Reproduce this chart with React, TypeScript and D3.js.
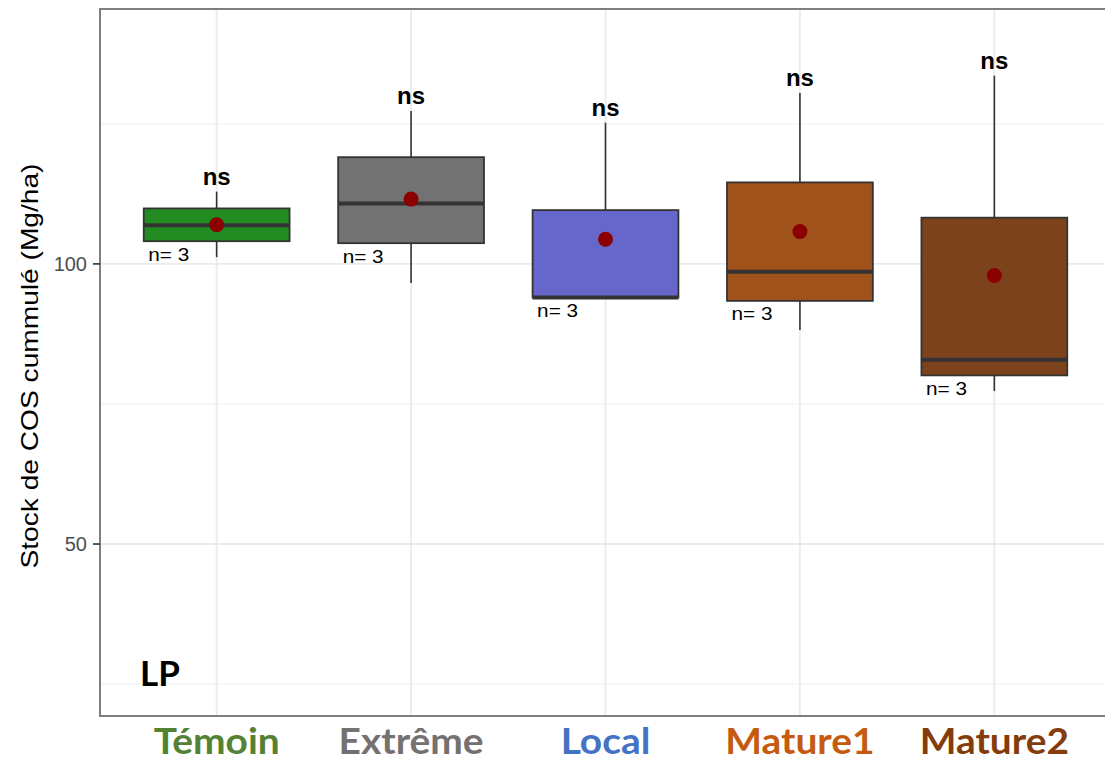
import React from 'react';
import * as d3 from 'd3';

// categories and label colours
const categories = ['Témoin', 'Extrême', 'Local', 'Mature1', 'Mature2'];
const boxFills = ['#228B22', '#727272', '#6767CB', '#A0521B', '#7C421C'];
const labelColors = ['#548235', '#767171', '#4472C4', '#C55A11', '#843C0C'];

const obsTemoin = [101.2, 106.9, 112.9];
const obsExtreme = [96.6, 110.8, 127.3];
const obsLocal = [94.0, 94.0, 125.2];
const obsMature1 = [88.2, 98.6, 130.5];
const obsMature2 = [77.3, 82.9, 133.6];
const observations = [obsTemoin, obsExtreme, obsLocal, obsMature1, obsMature2];

const signif = ['ns', 'ns', 'ns', 'ns', 'ns'];
const majorTicks = [50, 100];
const minorTicks = [25, 75, 125];

const W = 1105;
const H = 762;
const panel = {left: 100, right: 1111, top: 9, bottom: 716};

const sansFont = '"Liberation Sans", Arial, sans-serif';
const labelFont = 'Lato, "Open Sans", sans-serif';

function App() {
    const x = d3.scalePoint<string>()
        .domain(categories)
        .range([panel.left, panel.right])
        .padding(0.6);
    const step = x.step();
    const boxW = step * 0.75;

    const y = d3.scaleLinear()
        .domain([19.3, 145.5])
        .range([panel.bottom, panel.top]);

    const stats = observations.map((v) => {
        const s = v.slice().sort(d3.ascending);
        return {
            lo: d3.min(s) as number,
            q1: d3.quantile(s, 0.25) as number,
            med: d3.quantile(s, 0.5) as number,
            q3: d3.quantile(s, 0.75) as number,
            hi: d3.max(s) as number,
            mean: d3.mean(s) as number,
            n: s.length,
        };
    });

    return (
        <svg width={W} height={H} style={{position: 'absolute', left: 0, top: 0, background: '#fff'}}>
            <defs>
                <clipPath id="panelClip">
                    <rect x={panel.left} y={panel.top} width={panel.right - panel.left} height={panel.bottom - panel.top} />
                </clipPath>
            </defs>
            <g clipPath="url(#panelClip)">
                {minorTicks.map((t) => (
                    <line key={'mi' + t} x1={panel.left} x2={panel.right} y1={y(t)} y2={y(t)} stroke="#f2f2f2" strokeWidth={1.2} />
                ))}
                {majorTicks.map((t) => (
                    <line key={'ma' + t} x1={panel.left} x2={panel.right} y1={y(t)} y2={y(t)} stroke="#ebebeb" strokeWidth={1.8} />
                ))}
                {categories.map((c) => (
                    <line key={'v' + c} x1={x(c)} x2={x(c)} y1={panel.top} y2={panel.bottom} stroke="#ebebeb" strokeWidth={1.8} />
                ))}

                {categories.map((c, i) => {
                    const s = stats[i];
                    const cx = x(c) as number;
                    return (
                        <g key={'box' + c}>
                            <line x1={cx} x2={cx} y1={y(s.hi)} y2={y(s.q3)} stroke="#333" strokeWidth={1.6} />
                            <line x1={cx} x2={cx} y1={y(s.q1)} y2={y(s.lo)} stroke="#333" strokeWidth={1.6} />
                            <rect x={cx - boxW / 2} y={y(s.q3)} width={boxW} height={y(s.q1) - y(s.q3)}
                                fill={boxFills[i]} stroke="#333" strokeWidth={1.8} />
                            <line x1={cx - boxW / 2} x2={cx + boxW / 2} y1={y(s.med)} y2={y(s.med)} stroke="#333" strokeWidth={4} />
                            <circle cx={cx} cy={y(s.mean)} r={7.5} fill="#8B0000" />
                            <text x={cx} y={y(s.hi) - 7} textAnchor="middle" fontFamily={sansFont} fontWeight="bold" fontSize={24} fill="#000">
                                {signif[i]}
                            </text>
                            <text x={cx - boxW / 2 + 4.5} y={y(s.q1) + 19.5} fontFamily={sansFont} fontSize={19} fill="#000"
                                textLength={41} lengthAdjust="spacingAndGlyphs">
                                {'n= ' + s.n}
                            </text>
                        </g>
                    );
                })}

                <text x={140} y={686} fontFamily={labelFont} fontWeight="bold" fontSize={35} fill="#000">LP</text>
            </g>

            {/* panel border */}
            <rect x={panel.left} y={panel.top} width={panel.right - panel.left} height={panel.bottom - panel.top}
                fill="none" stroke="#7f7f7f" strokeWidth={2} />

            {/* y axis */}
            {majorTicks.map((t) => (
                <g key={'yt' + t}>
                    <line x1={panel.left - 7} x2={panel.left} y1={y(t)} y2={y(t)} stroke="#333" strokeWidth={1.6} />
                    <text x={panel.left - 13} y={y(t)} dy="0.36em" textAnchor="end" fontFamily={sansFont} fontSize={20} fill="#4d4d4d">
                        {t}
                    </text>
                </g>
            ))}
            <text transform={`translate(38, ${366}) rotate(-90)`} textAnchor="middle" fontFamily={sansFont} fontSize={24} fill="#000"
                textLength={405} lengthAdjust="spacingAndGlyphs">
                Stock de COS cummulé (Mg/ha)
            </text>

            {/* x labels */}
            {categories.map((c, i) => (
                <text key={'xl' + c} transform={`translate(${x(c)}, 754) scale(1.08, 1)`} textAnchor="middle"
                    fontFamily={labelFont} fontWeight="bold" fontSize={36} fill={labelColors[i]}>
                    {c}
                </text>
            ))}
        </svg>
    );
}

export default App;
